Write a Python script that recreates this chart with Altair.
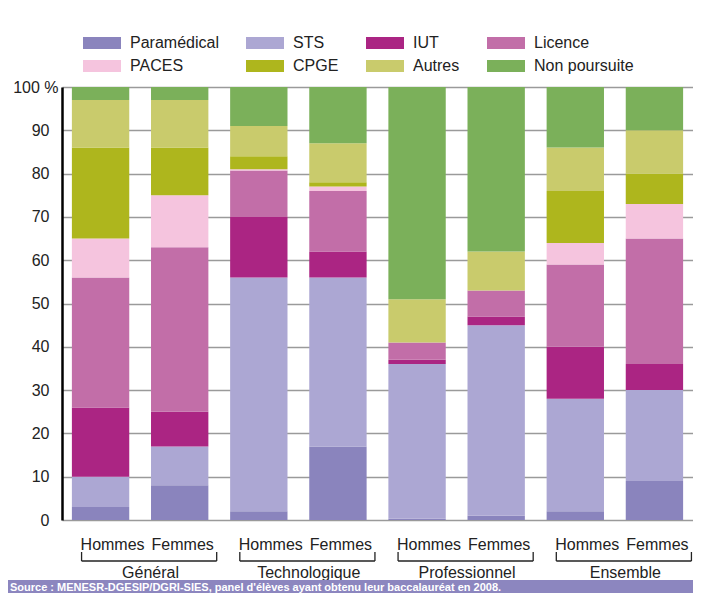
import altair as alt
import pandas as pd

FONT = "Liberation Sans, Arial, sans-serif"

categories = ["Paramédical", "STS", "IUT", "Licence", "PACES", "CPGE", "Autres", "Non poursuite"]
colors = ["#8a84bd", "#aca7d3", "#ab2583", "#c26ea8", "#f5c4de", "#aeb61d", "#c9cb6c", "#7bb05a"]
groups = ["Général", "Technologique", "Professionnel", "Ensemble"]
sexes = ["Hommes", "Femmes"]

# values in %, order of categories (bottom to top)
gen_h = [3, 7, 16, 30, 9, 21, 11, 3]
gen_f = [8, 9, 8, 38, 12, 11, 11, 3]
tech_h = [2, 54, 14, 10.7, 0.3, 3, 7, 9]
tech_f = [17, 39, 6, 14, 1, 1, 9, 13]
pro_h = [0.3, 35.7, 1, 4, 0, 0, 10, 49]
pro_f = [1, 44, 2, 6, 0, 0, 9, 38]
ens_h = [2, 26, 12, 19, 5, 12, 10, 14]
ens_f = [9, 21, 6, 29, 8, 7, 10, 10]

series = [gen_h, gen_f, tech_h, tech_f, pro_h, pro_f, ens_h, ens_f]
keys = [f"{g}|{s}" for g in groups for s in sexes]

source_text = "Source : MENESR-DGESIP/DGRI-SIES, panel d'élèves ayant obtenu leur baccalauréat en 2008."

rows = []
for key, vals in zip(keys, series):
    for i, (c, v) in enumerate(zip(categories, vals)):
        rows.append({"bar": key, "cat": c, "idx": i, "val": v})
df = pd.DataFrame(rows)

bar_df = pd.DataFrame({"bar": keys, "sex": [k.split("|")[1] for k in keys]})

grp_df = pd.DataFrame({
    "group": groups,
    "first": [f"{g}|Hommes" for g in groups],
    "second": [f"{g}|Femmes" for g in groups],
})

xscale = alt.Scale(domain=keys, paddingInner=0.275, paddingOuter=0.125)
INK = "#222"

bars = alt.Chart(df).mark_bar().encode(
    x=alt.X("bar:N", scale=xscale, title=None,
            axis=alt.Axis(labels=False, ticks=False,
                          domainColor="black", domainWidth=2.5, grid=False)),
    y=alt.Y("val:Q", stack="zero", title=None,
            scale=alt.Scale(domain=[0, 100], nice=False, zero=True),
            axis=alt.Axis(values=list(range(0, 101, 10)),
                          labelExpr="datum.value == 100 ? '100 %' : datum.label",
                          labelFont=FONT, labelFontSize=16, labelColor=INK,
                          labelPadding={"expr": "datum.value == 100 ? 4 : 13"},
                          ticks=False, domainColor="black", domainWidth=2.5,
                          gridColor="#9a9a9a", gridWidth=1.3)),
    color=alt.Color("cat:N", scale=alt.Scale(domain=categories, range=colors),
                    legend=alt.Legend(orient="none", legendX=32, legendY=-52,
                                      direction="horizontal", columns=4, title=None,
                                      symbolType="M-3.8,-1.2H3.8V1.2H-3.8Z", symbolSize=100,
                                      symbolStrokeWidth=0, symbolOpacity=1,
                                      labelFont=FONT, labelFontSize=16, labelColor=INK,
                                      labelOffset=20, rowPadding=7, columnPadding=27,
                                      gridAlign="each", labelLimit=300)),
    order=alt.Order("idx:Q", sort="ascending"),
)

def sex_labels(sex, dx):
    return alt.Chart(bar_df).transform_filter(alt.datum.sex == sex).mark_text(
        font=FONT, fontSize=16, color=INK, dx=dx, baseline="alphabetic", align="center"
    ).encode(
        x=alt.X("bar:N", scale=xscale, axis=None),
        y=alt.value(463),
        text="sex:N",
    )

hlab = sex_labels("Hommes", 12)
flab = sex_labels("Femmes", 3)

hline = alt.Chart(grp_df).mark_rule(color=INK, strokeWidth=1.3, xOffset=-19, x2Offset=37).encode(
    x=alt.X("first:N", scale=xscale, axis=None),
    x2="second:N",
    y=alt.value(474),
)
ltick = alt.Chart(grp_df).mark_rule(color=INK, strokeWidth=1.3, xOffset=-19).encode(
    x=alt.X("first:N", scale=xscale, axis=None),
    y=alt.value(465), y2=alt.value(474),
)
rtick = alt.Chart(grp_df).mark_rule(color=INK, strokeWidth=1.3, xOffset=37).encode(
    x=alt.X("second:N", scale=xscale, axis=None),
    y=alt.value(465), y2=alt.value(474),
)
glabels = alt.Chart(grp_df).mark_text(font=FONT, fontSize=16, color=INK,
                                      dx=50, baseline="alphabetic", align="center").encode(
    x=alt.X("first:N", scale=xscale, axis=None),
    y=alt.value(491),
    text="group:N",
)

src_df = pd.DataFrame({"s": [source_text]})
band = alt.Chart(src_df).mark_rect(color="#8c86bf").encode(
    x=alt.value(-54), x2=alt.value(631), y=alt.value(493), y2=alt.value(506),
)
src = alt.Chart(src_df).mark_text(font=FONT, fontSize=11, fontWeight="bold", color="white",
                                  align="left", baseline="alphabetic").encode(
    x=alt.value(-52), y=alt.value(503.5), text="s:N",
)

chart = alt.layer(bars, hlab, flab, hline, ltick, rtick, glabels, band, src).properties(
    width=631, height=433,
    padding={"left": 0, "top": 27, "right": 0, "bottom": 0},
    background="white",
).configure_view(stroke=None)

chart.save("out.html", embed_options={"renderer": "svg", "actions": False})
